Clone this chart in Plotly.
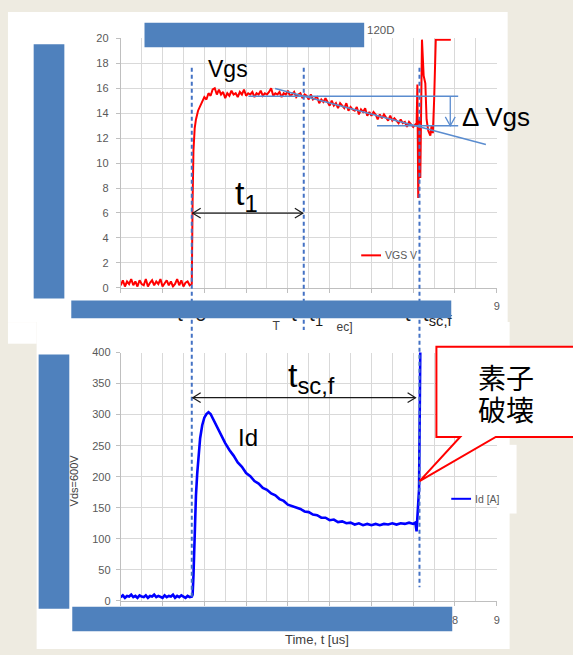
import plotly.graph_objects as go

W, H = 573, 655

# ---------------- data ----------------
vgs_time = [
    0.00, 0.05, 0.10, 0.15, 0.20, 0.25, 0.30, 0.35, 0.40, 0.45, 0.50, 0.55, 0.60, 0.65, 0.70, 0.75, 0.80, 0.85,
    0.90, 0.95, 1.00, 1.05, 1.10, 1.15, 1.20, 1.25, 1.30, 1.35, 1.40, 1.45, 1.50, 1.55, 1.60, 1.65, 1.70,
    1.72, 1.74, 1.77, 1.80, 1.85, 1.90, 1.95, 2.00, 2.05, 2.10, 2.15, 2.20, 2.25, 2.30, 2.35,
    2.40, 2.45, 2.50, 2.55, 2.60, 2.65, 2.70, 2.75, 2.80, 2.85, 2.90, 2.95, 3.00, 3.05, 3.10, 3.15, 3.20, 3.25,
    3.30, 3.35, 3.40, 3.45, 3.50, 3.55, 3.60, 3.65, 3.70, 3.75, 3.80, 3.85, 3.90, 3.95, 4.00, 4.05, 4.10, 4.15,
    4.20, 4.25, 4.30, 4.35, 4.40,
    4.45, 4.50, 4.55, 4.60, 4.65, 4.70, 4.75, 4.80, 4.85, 4.90, 4.95, 5.00, 5.05, 5.10, 5.15, 5.20, 5.25, 5.30,
    5.35, 5.40, 5.45, 5.50, 5.55, 5.60, 5.65, 5.70, 5.75, 5.80, 5.85, 5.90, 5.95, 6.00, 6.05, 6.10, 6.15, 6.20,
    6.25, 6.30, 6.35, 6.40, 6.45, 6.50, 6.55, 6.60, 6.65, 6.70, 6.75, 6.80, 6.85, 6.90, 6.95, 7.00, 7.05,
    7.08, 7.10, 7.12, 7.15, 7.17, 7.21, 7.25, 7.29, 7.32, 7.36, 7.41, 7.44, 7.47, 7.50, 7.54, 7.90,
]
vgs_value = [
    0.2, 0.6, 0.1, 0.5, 0.3, 0.7, 0.2, 0.5, 0.1, 0.6, 0.3, 0.2, 0.7, 0.1, 0.4, 0.6, 0.2, 0.5,
    0.3, 0.7, 0.1, 0.4, 0.6, 0.2, 0.5, 0.1, 0.3, 0.7, 0.2, 0.6, 0.1, 0.4, 0.5, 0.2, 0.3,
    7.0, 11.0, 12.8, 13.5, 14.2, 14.6, 15.0, 15.3, 15.1, 15.6, 15.4, 15.9, 16.0, 15.5, 15.9,
    15.5, 15.7, 15.2, 15.6, 15.4, 15.8, 15.5, 15.6, 15.3, 15.7, 15.5, 15.9, 15.4, 15.6, 15.5, 15.7, 15.3, 15.6,
    15.5, 15.8, 15.4, 15.6, 15.5, 15.7, 16.0, 15.4, 15.6, 15.5, 15.7, 15.3, 15.6, 15.5, 15.8, 15.4, 15.5, 15.7,
    15.3, 15.5, 15.6, 15.2, 15.5,
    15.4, 15.1, 15.5, 15.1, 15.2, 15.3, 14.8, 15.1, 14.9, 15.2, 14.9, 14.6, 15.0, 14.6, 14.8, 14.4, 14.8, 14.6,
    14.4, 14.8, 14.2, 14.5, 14.3, 14.2, 14.5, 13.9, 14.3, 14.1, 14.4, 13.8, 14.1, 13.8, 14.1, 13.9, 13.5, 13.9,
    13.6, 13.9, 13.6, 13.4, 13.8, 13.4, 13.6, 13.4, 13.2, 13.5, 13.2, 13.3, 12.9, 13.3, 13.1, 12.9, 13.1,
    13.0, 16.3, 7.2, 13.5, 8.8, 19.9, 17.0, 16.4, 13.5, 12.6, 12.2, 13.0, 12.4, 15.0, 19.9, 19.9,
]

id_time = [
    0.00, 0.05, 0.10, 0.15, 0.20, 0.25, 0.30, 0.35, 0.40, 0.45, 0.50, 0.55, 0.60, 0.65, 0.70, 0.75, 0.80, 0.85,
    0.90, 0.95, 1.00, 1.05, 1.10, 1.15, 1.20, 1.25, 1.30, 1.35, 1.40, 1.45, 1.50, 1.55, 1.60, 1.65, 1.70,
    1.72, 1.74, 1.76, 1.78, 1.80, 1.83, 1.86, 1.90, 1.95, 2.00, 2.05, 2.10, 2.15, 2.20, 2.30, 2.40, 2.50,
    2.6, 2.7, 2.8, 2.9, 3.0, 3.1, 3.2, 3.3, 3.4, 3.5, 3.6, 3.7, 3.8, 3.9, 4.0, 4.1, 4.2, 4.3, 4.4, 4.5,
    4.6, 4.7, 4.8, 4.9, 5.0, 5.1, 5.2, 5.3, 5.4, 5.5, 5.6, 5.7, 5.8, 5.9, 6.0, 6.1, 6.2, 6.3, 6.4, 6.5,
    6.6, 6.7, 6.8, 6.9, 7.0, 7.05, 7.08, 7.14, 7.17,
]
id_value = [
    6, 9, 5, 8, 7, 10, 6, 8, 5, 9, 7, 6, 9, 5, 8, 7, 10, 6,
    8, 7, 5, 9, 6, 8, 7, 10, 5, 8, 6, 9, 7, 5, 8, 6, 7,
    10, 40, 90, 135, 170, 205, 232, 262, 283, 295, 301, 304, 301, 294, 281, 267, 254,
    243, 234, 223, 216, 206, 201, 193, 189, 182, 179, 173, 170, 164, 161, 155, 153, 150, 148, 144, 143,
    139, 138, 134, 134, 130, 131, 127, 128, 125, 126, 123, 125, 122, 124, 122, 124, 122, 124, 123, 125,
    123, 125, 124, 126, 124, 126, 112, 180, 410,
]

x_ticks = [0, 1, 2, 3, 4, 5, 6, 7, 8, 9]
top_x_ticktext = ["0", "1", "2", "3", "4", "5", "6", "7", " ", "9"]
bot_x_ticktext = ["0", "1", "2", "3", "4", "5", "6", "7", "8", "9"]

# event times (us)
T0, T1, TSC = 1.70, 4.38, 7.15

# ---------------- geometry helpers ----------------
XL, XR = 119, 499          # px of x = 0 and x = 9
TOP0, TOP20 = 287, 33      # px of Vgs 0 and 20
BOT0, BOT400 = 606, 353    # px of Id 0 and 400


def tx(t):
    return XL + t * (XR - XL) / 9.0


def fx(px):
    return px / W


def fy(py):
    return 1 - py / H


def rect(x0, y0, x1, y1, fill, layer="above", line=None):
    return dict(type="rect", xref="paper", yref="paper", x0=fx(x0), x1=fx(x1), y0=fy(y1), y1=fy(y0),
                fillcolor=fill, line=dict(width=0) if line is None else line, layer=layer)


def seg(x0, y0, x1, y1, color, width=1.2, dash="solid"):
    return dict(type="line", xref="paper", yref="paper", x0=fx(x0), x1=fx(x1), y0=fy(y0), y1=fy(y1),
                line=dict(color=color, width=width, dash=dash), layer="above")


def poly(pts, color, width=1.2, fill=None, close=False):
    d = "M " + " L ".join(f"{fx(x):.5f},{fy(y):.5f}" for x, y in pts)
    if close:
        d += " Z"
    s = dict(type="path", xref="paper", yref="paper", path=d, line=dict(color=color, width=width), layer="above")
    if fill:
        s["fillcolor"] = fill
    return s


BEIGE = "#eeebe1"
BLUEBOX = "#4f81bd"
DASH = "#4472c4"
LBLUE = "#5a8ccf"
GRID = "#d9d9d9"
TICKC = "#595959"
FONT = "Liberation Sans, Arial, sans-serif"

fig = go.Figure()

fig.add_trace(go.Scatter(x=vgs_time, y=vgs_value, mode="lines", line=dict(color="#ff0000", width=2),
                         xaxis="x", yaxis="y", showlegend=False, hoverinfo="skip"))
fig.add_trace(go.Scatter(x=id_time, y=id_value, mode="lines", line=dict(color="#0000ff", width=2.6),
                         xaxis="x2", yaxis="y2", showlegend=False, hoverinfo="skip"))

# partially hidden text fragments (drawn as traces so the redaction boxes cover them)
frag = [
    (tx(T0), 316, "t=0", "middle center", 21, "#1a1a1a"),
    (291, 316, "t=t<sub>1</sub>", "middle right", 21, "#1a1a1a"),
    (406, 316, "t=t<sub>sc,f</sub>", "middle right", 21, "#1a1a1a"),
    (276, 327, "T", "middle center", 12, "#404040"),
    (337, 328, "ec]", "middle right", 12, "#404040"),
]
for x, y, t, pos, sz, col in frag:
    fig.add_trace(go.Scatter(x=[x], y=[y], mode="text", text=[t], textposition=pos,
                             textfont=dict(size=sz, color=col, family=FONT),
                             xaxis="x3", yaxis="y3", showlegend=False, hoverinfo="skip"))

axis_common = dict(showgrid=True, gridcolor=GRID, gridwidth=1, zeroline=False, showline=True,
                   linecolor="#bfbfbf", linewidth=1, ticks="outside", ticklen=4, tickcolor="#bfbfbf",
                   tickfont=dict(size=11, color=TICKC, family=FONT))

fig.update_layout(
    width=W, height=H, autosize=False,
    margin=dict(l=0, r=0, t=0, b=0, pad=0),
    paper_bgcolor=BEIGE, plot_bgcolor="rgba(0,0,0,0)",
    showlegend=False,
    xaxis=dict(domain=[fx(XL), fx(XR)], range=[0, 9], anchor="y", tickmode="array", tickvals=x_ticks,
               ticktext=top_x_ticktext, minor=dict(dtick=0.5, showgrid=True, gridcolor=GRID, ticks=""),
               ticklabelstandoff=4, **axis_common),
    yaxis=dict(domain=[fy(TOP0), fy(TOP20)], range=[0, 20], anchor="x", dtick=2, ticklabelstandoff=5,
               **axis_common),
    xaxis2=dict(domain=[fx(XL), fx(XR)], range=[0, 9], anchor="y2", tickmode="array", tickvals=x_ticks,
                ticktext=bot_x_ticktext, minor=dict(dtick=0.5, showgrid=True, gridcolor=GRID, ticks=""),
                ticklabelstandoff=5, **axis_common),
    yaxis2=dict(domain=[fy(BOT0), fy(BOT400)], range=[0, 400], anchor="x2", dtick=50, ticklabelstandoff=3,
                **axis_common),
    xaxis3=dict(domain=[0, 1], range=[0, W], anchor="y3", visible=False, fixedrange=True),
    yaxis3=dict(domain=[0, 1], range=[H, 0], anchor="x3", visible=False, fixedrange=True),
)

shapes = []
# white slide panels
shapes.append(rect(5, 6, 510, 322, "white", layer="below"))
shapes.append(rect(5, 322, 34, 344, "white", layer="below"))
shapes.append(rect(34, 322, 512, 655, "white", layer="below"))
shapes.append(rect(510, 447, 519, 517, "white", layer="below"))

# dashed event lines
shapes.append(seg(tx(T0), 63, tx(T0), 603, DASH, 2, "4px,3px"))
shapes.append(seg(tx(T1), 63, tx(T1), 330, DASH, 2, "4px,3px"))
shapes.append(seg(tx(TSC), 63, tx(TSC), 592, DASH, 2, "4px,3px"))

# delta Vgs construction lines
shapes.append(seg(248, 92, 460, 92, LBLUE, 1.5))
shapes.append(seg(378, 122, 460, 122, LBLUE, 1.5))
shapes.append(seg(275, 84, 488, 141, LBLUE, 1.5))
shapes.append(seg(452, 92, 452, 122, LBLUE, 1.3))
shapes.append(poly([(447, 113), (452, 122), (457, 113)], LBLUE, 1.3))

# double arrows t1 and tsc,f
for xa, xb, yy in [(tx(T0), tx(T1), 211), (tx(T0), tx(TSC) - 3, 399)]:
    shapes.append(seg(xa + 1, yy, xb - 1, yy, "#1a1a1a", 1.2))
    shapes.append(poly([(xa + 9, yy - 5), (xa + 1, yy), (xa + 9, yy + 5)], "#1a1a1a", 1.2))
    shapes.append(poly([(xb - 9, yy - 5), (xb - 1, yy), (xb - 9, yy + 5)], "#1a1a1a", 1.2))

# legend samples
shapes.append(seg(362, 254, 382, 254, "#ff0000", 2))
shapes.append(seg(453, 502, 473, 502, "#0000ff", 2))

# redaction boxes
shapes.append(rect(143, 17, 365, 42, BLUEBOX))
shapes.append(rect(31, 39, 62, 298, BLUEBOX))
shapes.append(rect(69, 300, 453, 318, BLUEBOX))
shapes.append(rect(36, 355, 67, 614, BLUEBOX))
shapes.append(rect(70, 612, 454, 637, BLUEBOX))

# callout
shapes.append(poly([(438, 347), (580, 347), (580, 439), (498, 439), (421, 484), (462, 439), (438, 439)],
                   "#ff0000", 2, fill="white", close=True))

fig.update_layout(shapes=shapes)

ann = []


def text(px, py, t, size, color="#000000", xanchor="center", yanchor="middle", family=FONT, angle=0):
    ann.append(dict(xref="paper", yref="paper", x=fx(px), y=fy(py), text=t, showarrow=False,
                    xanchor=xanchor, yanchor=yanchor, textangle=angle,
                    font=dict(size=size, color=color, family=family)))


text(227, 64, "Vgs", 23)
text(232, 193, "t<sub>1</sub>", 34, xanchor="left")
text(462, 113, "\u0394 Vgs", 26, xanchor="left")
text(248, 440, "Id", 24)
text(286, 378, "t<sub>sc,f</sub>", 34, xanchor="left")
text(508, 378, "素子", 28, family="Noto Sans CJK JP")
text(508, 411, "破壊", 28, family="Noto Sans CJK JP")
text(384, 254, "VGS V", 10.5, TICKC, xanchor="left")
text(475, 502, "Id [A]", 10.5, TICKC, xanchor="left")
text(366, 24, "120D", 11.5, TICKC, xanchor="left")
text(317, 645, "Time, t [us]", 13, "#404040")
text(72, 483, "Vds=600V", 11, "#404040", angle=-90)

fig.update_layout(annotations=ann)

fig.write_html(
    "out.html",
    config={"displayModeBar": False},
    post_script="document.body.style.margin='0';document.body.style.padding='0';"
                "document.documentElement.style.overflow='hidden';document.body.style.overflow='hidden';",
)
